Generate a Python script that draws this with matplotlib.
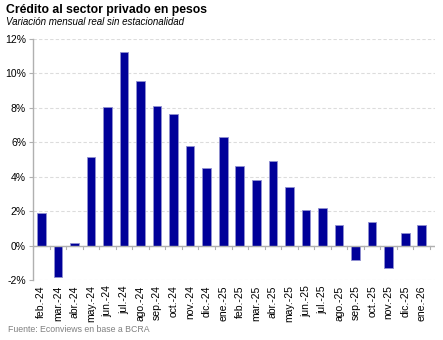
import matplotlib
matplotlib.use("Agg")
import matplotlib.pyplot as plt
from matplotlib.ticker import FuncFormatter

categories = ["feb.-24", "mar.-24", "abr.-24", "may.-24", "jun.-24", "jul.-24", "ago.-24",
              "sep.-24", "oct.-24", "nov.-24", "dic.-24", "ene.-25", "feb.-25", "mar.-25",
              "abr.-25", "may.-25", "jun.-25", "jul.-25", "ago.-25", "sep.-25", "oct.-25",
              "nov.-25", "dic.-25", "ene.-26"]
values = [1.91, -1.80, 0.17, 5.16, 8.06, 11.26, 9.57, 8.10, 7.65, 5.78, 4.50, 6.30,
          4.65, 3.80, 4.93, 3.40, 2.07, 2.18, 1.22, -0.81, 1.37, -1.28, 0.71, 1.22]
yticks = [-2, 0, 2, 4, 6, 8, 10, 12]

plt.rcParams['font.family'] = ['Liberation Sans', 'DejaVu Sans']
fig = plt.figure(figsize=(4.43, 3.40), dpi=100)
ax = fig.add_axes([33/443, 1-280/340, (435-33)/443, (280-39)/340])

x = list(range(len(categories)))
ax.bar(x, values, width=0.52, color="#000099", edgecolor="#9090d0", linewidth=0.6, zorder=3)

ax.set_ylim(-2, 12)
ax.set_xlim(-0.5, 23.8)
ax.set_yticks(yticks)
ax.yaxis.set_major_formatter(FuncFormatter(lambda v, p: f"{int(v)}%"))
ax.grid(axis="y", color="#dcdcdc", linestyle=(0, (3, 2)), linewidth=0.8, zorder=0)
ax.tick_params(axis="y", length=3, color="#b0b0b0", labelsize=7.5, pad=2)
ax.tick_params(axis="x", length=0, labelsize=7.5, pad=4)
ax.set_xticks(x)
ax.set_xticklabels(categories, rotation=90)

for s in ["top", "right", "bottom"]:
    ax.spines[s].set_visible(False)
ax.spines["left"].set_color("#b0b0b0")
ax.spines["left"].set_linewidth(1.0)

# zero axis line with tick marks between categories
ax.axhline(0, color="#b0b0b0", linewidth=1.0, zorder=4)
for i in range(len(categories) + 1):
    ax.plot([i - 0.5, i - 0.5], [0, -0.18], color="#b0b0b0", linewidth=0.8, zorder=4, clip_on=False)

fig.text(6/443, 1-10/340, "Crédito al sector privado en pesos", fontsize=8.8, fontweight="bold",
         va="center", ha="left", color="#000000")
fig.text(6/443, 1-22/340, "Variación mensual real sin estacionalidad", fontsize=7, fontstyle="italic",
         va="center", ha="left", color="#000000")
fig.text(8/443, 1-329/340, "Fuente: Econviews en base a BCRA", fontsize=6.3, color="#808080",
         va="center", ha="left")

fig.savefig("out.png", dpi=100)
